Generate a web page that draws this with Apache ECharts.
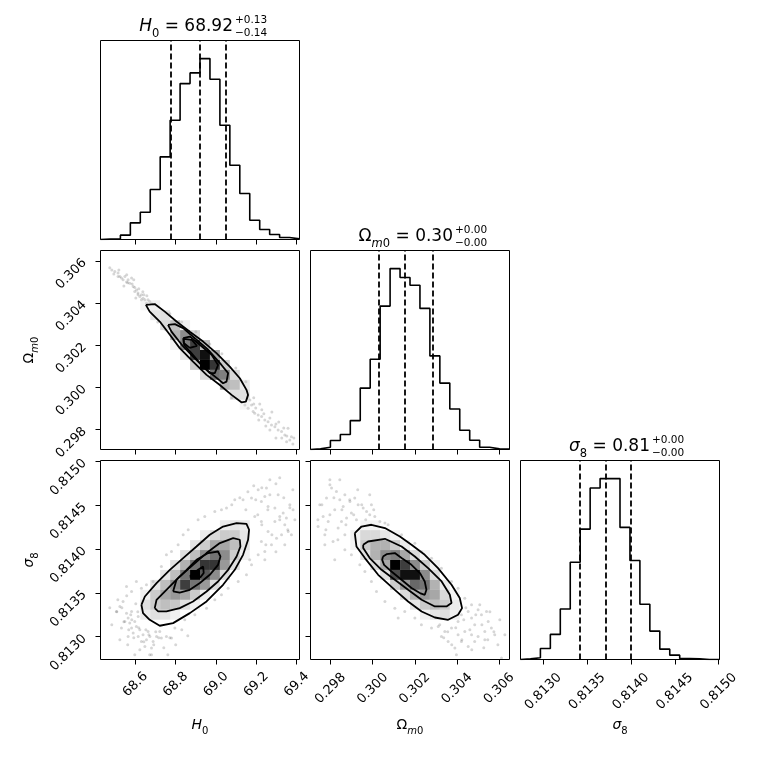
<!DOCTYPE html>
<html>
<head>
<meta charset="utf-8">
<title>corner plot</title>
<script src="https://cdn.jsdelivr.net/npm/echarts@6.0.0/dist/echarts.min.js"></script>
<style>
  html, body { margin: 0; padding: 0; background: #fff; }
  #chart { width: 760px; height: 760px; }
</style>
</head>
<body>
<div id="chart"></div>
<script>
var chartDom = document.getElementById('chart');

// axis extents and tick values of the three parameters
var h0Range = [68.427, 69.414];
var omRange = [0.29705, 0.30649];
var s8Range = [0.81274, 0.81501];
var h0Ticks = [68.6, 68.8, 69.0, 69.2, 69.4];
var omTicks = [0.298, 0.300, 0.302, 0.304, 0.306];
var s8Ticks = [0.8130, 0.8135, 0.8140, 0.8145, 0.8150];

// 1D histograms (20 bins over the range), relative counts
var h0Hist = [1, 2, 13, 50, 82, 150, 248, 358, 468, 500, 543, 481, 343, 223, 138, 58, 30, 15, 6, 2];
var omHist = [2, 7, 27, 45, 87, 185, 272, 432, 545, 518, 495, 425, 282, 200, 122, 58, 28, 7, 2, 1];
var s8Hist = [2, 5, 33, 75, 151, 291, 390, 513, 541, 541, 395, 296, 165, 85, 31, 13, 3, 2, 0, 0];

// 16 / 50 / 84 % quantiles
var h0Quant = [68.776, 68.919, 69.047];
var omQuant = [0.30029, 0.30152, 0.30285];
var s8Quant = [0.813416, 0.813713, 0.813998];

// titles
var paramLabels = ['{it|H}{sub|0}', '{up|\u03a9}{subit|m}{sub|0}', '{it|\u03c3}{sub|8}'];
var titleValues = ['68.92', '0.30', '0.81'];
var titlePlus = ['+0.13', '+0.00', '+0.00'];
var titleMinus = ['\u22120.14', '\u22120.00', '\u22120.00'];

// samples outside the densest region
var pointsH0Om = [
  [68.498,0.30549],[68.514,0.30542],[68.523,0.30526],[68.531,0.30518],[68.548,0.30526],[68.564,0.30510],
  [68.581,0.30518],[68.572,0.30494],[68.589,0.30478],[68.606,0.30462],[68.597,0.30454],[68.613,0.30447],
  [68.630,0.30439],[68.622,0.30431],[68.638,0.30423],[68.647,0.30415],[68.663,0.30415],[68.671,0.30407],
  [68.655,0.30399],[68.613,0.30439],[68.597,0.30473],[68.539,0.30510],[68.556,0.30499],[68.584,0.30490],
  [68.514,0.30526],[68.630,0.30415],[68.483,0.30557],[68.562,0.30496],[68.642,0.30439],[68.681,0.30396],
  [68.473,0.30567],[68.493,0.30538],[68.518,0.30557],[68.543,0.30481],[68.557,0.30534],[68.592,0.30510],
  [68.617,0.30467],[68.637,0.30453],[68.657,0.30434],[68.602,0.30424],
  [68.711,0.30310],[68.751,0.30273],[68.800,0.30216],[68.860,0.30149],[68.920,0.30102],[68.979,0.30045],
  [69.029,0.29997],[69.078,0.29950],[68.771,0.30349],[68.830,0.30310],[68.900,0.30263],[68.969,0.30206],
  [69.029,0.30159],[69.098,0.30092],[69.148,0.30026],
  [69.126,0.29932],[69.143,0.29916],[69.159,0.29901],[69.176,0.29916],[69.184,0.29885],[69.192,0.29877],
  [69.209,0.29869],[69.226,0.29861],[69.242,0.29845],[69.258,0.29837],[69.275,0.29821],[69.292,0.29813],
  [69.308,0.29798],[69.325,0.29790],[69.341,0.29774],[69.357,0.29806],[69.374,0.29766],[69.366,0.29750],
  [69.350,0.29742],[69.168,0.29940],[69.187,0.29921],[69.227,0.29893],[69.267,0.29855],[69.297,0.29826],
  [69.326,0.29760],[69.212,0.29845],[69.247,0.29817],[69.153,0.29950],[69.197,0.29902],[69.381,0.29731],
  [69.187,0.29950],[69.217,0.29921],[69.237,0.29874],[69.277,0.29883],[69.311,0.29836],[69.336,0.29807],
  [69.351,0.29769],[69.386,0.29760],[69.267,0.29798],[69.297,0.29760]
];
var pointsH0S8 = [
  [68.506,0.813288],[68.523,0.813345],[68.539,0.813402],[68.556,0.813269],[68.564,0.813212],[68.572,0.813155],
  [68.581,0.813098],[68.589,0.813041],[68.597,0.813174],[68.605,0.813117],[68.614,0.813003],[68.622,0.813079],
  [68.630,0.812946],[68.638,0.813022],[68.647,0.812889],[68.655,0.812965],[68.663,0.813060],[68.672,0.813003],
  [68.680,0.812870],[68.688,0.812946],[68.705,0.813003],[68.721,0.813060],[68.729,0.812984],[68.754,0.813003],
  [68.597,0.812794],[68.680,0.812794],[68.548,0.813174],[68.531,0.813098],[68.564,0.813003],[68.581,0.813288],
  [68.614,0.813231],[68.779,0.812984],[68.796,0.813098],
  [68.513,0.813421],[68.533,0.813330],[68.557,0.813467],[68.577,0.813250],[68.602,0.813376],[68.543,0.813170],
  [68.567,0.813079],[68.592,0.812988],[68.617,0.813102],[68.642,0.812942],[68.667,0.813022],[68.691,0.812908],
  [68.716,0.812988],[68.741,0.812874],[68.622,0.812851],[68.523,0.812965],[68.483,0.813136],[68.508,0.813284],
  [68.582,0.813193],[68.652,0.813079],[68.701,0.813056],[68.771,0.812988],[68.800,0.812908],[68.830,0.813079],
  [68.860,0.813011],[68.761,0.812794],[68.671,0.812794],[68.562,0.812908],[68.473,0.813330],[68.612,0.813284],
  [68.556,0.813573],[68.581,0.813516],[68.605,0.813630],[68.630,0.813554],[68.655,0.813592],[68.688,0.813630],
  [68.729,0.813801],[68.754,0.813934],[68.779,0.813972],[68.812,0.814048],[68.837,0.814163],[68.862,0.814220],
  [68.911,0.814334],[68.944,0.814372],[68.994,0.814429],[69.027,0.814448],[69.052,0.814467],
  [68.845,0.813193],[68.895,0.813250],[68.953,0.813326],[68.994,0.813421],[69.027,0.813478],[69.060,0.813554],
  [69.110,0.813630],[69.151,0.813706],[69.176,0.813820],[69.209,0.813934],[69.225,0.814086],[69.258,0.814201],
  [69.325,0.814163],[69.358,0.814201],[69.374,0.814163],
  [69.093,0.814562],[69.134,0.814562],[69.176,0.814581],[69.209,0.814676],[69.250,0.814695],[69.267,0.814790],
  [69.225,0.814543],[69.258,0.814486],[69.292,0.814467],[69.316,0.814372],[69.341,0.814277],[69.366,0.814505],
  [69.382,0.814448],[69.292,0.814315],[69.242,0.814600],[69.308,0.814619],[69.349,0.814353],[69.192,0.814372],
  [69.225,0.814315],[69.275,0.814048],[69.300,0.814124],[69.242,0.813972],[69.333,0.814410],
  [69.078,0.814505],[69.118,0.814585],[69.158,0.814653],[69.197,0.814562],[69.227,0.814699],[69.267,0.814619],
  [69.297,0.814744],[69.336,0.814585],[69.366,0.814470],[69.257,0.814448],[69.207,0.814391],[69.316,0.814334],
  [69.356,0.814220],[69.277,0.814163],[69.227,0.814277],[69.381,0.814676],[69.316,0.814813],[69.148,0.814448],
  [69.187,0.814721],[69.247,0.814048],[69.297,0.813969],[69.341,0.814048],[69.391,0.814334],[69.167,0.813877],
  [69.242,0.813877]
];
var pointsOmS8 = [
  [0.29741,0.814258],[0.29749,0.814505],[0.29765,0.814372],[0.29781,0.814581],[0.29797,0.814790],[0.29805,0.814695],
  [0.29820,0.814448],[0.29828,0.814657],[0.29844,0.814562],[0.29860,0.814486],[0.29868,0.814619],[0.29876,0.814353],
  [0.29892,0.814543],[0.29899,0.814410],[0.29915,0.814581],[0.29931,0.814505],[0.29955,0.814467],[0.29971,0.814429],
  [0.29986,0.814391],[0.30010,0.814372],[0.30034,0.814315],[0.30058,0.814296],[0.29836,0.814239],[0.29868,0.814163],
  [0.29773,0.814163],[0.29812,0.814086],[0.29789,0.814315],[0.29852,0.814315],[0.29923,0.814334],[0.29994,0.814505],
  [0.29740,0.814334],[0.29759,0.814505],[0.29778,0.814220],[0.29797,0.814391],[0.29816,0.814585],[0.29835,0.814106],
  [0.29854,0.814448],[0.29873,0.814277],[0.29891,0.814562],[0.29910,0.814391],[0.29929,0.814676],[0.29948,0.814505],
  [0.29967,0.814334],[0.29986,0.814619],[0.30005,0.814448],[0.29797,0.814733],[0.29844,0.814790],[0.29773,0.814048],
  [0.29868,0.813991],[0.29820,0.813877],
  [0.29899,0.813934],[0.29939,0.813820],[0.29963,0.813744],[0.29994,0.813630],[0.30018,0.813516],[0.30058,0.813402],
  [0.30105,0.813326],[0.30152,0.813288],[0.30200,0.813212],[0.30231,0.813136],[0.30121,0.813212],
  [0.30073,0.814277],[0.30137,0.814163],[0.30200,0.814067],[0.30231,0.813972],[0.30279,0.813896],[0.30326,0.813782],
  [0.30374,0.813630],[0.30405,0.813554],[0.30437,0.813440],[0.30469,0.813364],
  [0.30279,0.813098],[0.30311,0.813117],[0.30342,0.813060],[0.30374,0.813098],[0.30405,0.813174],[0.30421,0.813250],
  [0.30453,0.813288],[0.30469,0.813212],[0.30484,0.813136],[0.30500,0.813307],[0.30516,0.813250],[0.30540,0.813288],
  [0.30548,0.813174],[0.30563,0.813098],[0.30532,0.813060],[0.30500,0.813003],[0.30469,0.813022],[0.30437,0.813060],
  [0.30405,0.813022],[0.30390,0.812870],[0.30421,0.812946],[0.30453,0.812889],[0.30484,0.812946],[0.30532,0.812965],
  [0.30579,0.813022],[0.30611,0.812756],[0.30358,0.812946],[0.30326,0.813003],[0.30397,0.812794],
  [0.30318,0.813136],[0.30356,0.813056],[0.30394,0.813102],[0.30432,0.813193],[0.30461,0.813079],[0.30489,0.813250],
  [0.30518,0.813136],[0.30546,0.812965],[0.30575,0.813056],[0.30603,0.813193],[0.30375,0.812908],[0.30423,0.812965],
  [0.30470,0.812851],[0.30527,0.812874],[0.30594,0.812908],[0.30627,0.813022],[0.30337,0.812988],[0.30442,0.813330],
  [0.30508,0.813364],[0.30556,0.813284]
];

// 2D histogram cells: [x bin, y bin counted from the top, density relative to max]
var cellsH0Om = [
  [4,5,0.22],[5,5,0.24],[5,6,0.32],[6,6,0.35],[6,7,0.39],[7,7,0.5],[8,7,0.24],
  [7,8,0.55],[8,8,0.67],[9,8,0.39],[7,9,0.24],[8,9,0.71],[9,9,0.87],[10,9,0.5],
  [8,10,0.32],[9,10,0.87],[10,10,0.97],[11,10,0.59],[9,11,0.45],[10,11,1.0],[11,11,0.89],[12,11,0.45],
  [10,12,0.39],[11,12,0.74],[12,12,0.71],[13,12,0.39],[12,13,0.55],[13,13,0.5],[14,13,0.28],
  [13,14,0.35],[14,14,0.35],[14,15,0.2]
];
var cellsH0S8 = [
  [12,6,0.28],[13,6,0.32],[14,6,0.28],
  [10,7,0.28],[11,7,0.39],[12,7,0.45],[13,7,0.45],[14,7,0.32],
  [9,8,0.32],[10,8,0.45],[11,8,0.59],[12,8,0.59],[13,8,0.5],[14,8,0.32],
  [8,9,0.35],[9,9,0.5],[10,9,0.67],[11,9,0.74],[12,9,0.67],[13,9,0.45],[14,9,0.24],
  [7,10,0.35],[8,10,0.55],[9,10,0.74],[10,10,0.89],[11,10,0.89],[12,10,0.63],[13,10,0.35],
  [6,11,0.32],[7,11,0.5],[8,11,0.74],[9,11,1.0],[10,11,0.81],[11,11,0.67],[12,11,0.39],
  [5,12,0.32],[6,12,0.5],[7,12,0.67],[8,12,0.87],[9,12,0.74],[10,12,0.63],[11,12,0.39],
  [4,13,0.24],[5,13,0.45],[6,13,0.59],[7,13,0.63],[8,13,0.59],[9,13,0.45],[10,13,0.28],
  [4,14,0.35],[5,14,0.45],[6,14,0.5],[7,14,0.47],[8,14,0.35],[9,14,0.24],
  [4,15,0.28],[5,15,0.35],[6,15,0.32],[7,15,0.24]
];
var cellsOmS8 = [
  [5,6,0.22],[6,6,0.22],
  [4,7,0.24],[5,7,0.39],[6,7,0.39],[7,7,0.32],[8,7,0.22],
  [4,8,0.22],[5,8,0.45],[6,8,0.55],[7,8,0.55],[8,8,0.45],[9,8,0.28],
  [5,9,0.35],[6,9,0.55],[7,9,0.67],[8,9,0.71],[9,9,0.59],[10,9,0.39],[11,9,0.22],
  [6,10,0.39],[7,10,0.59],[8,10,1.0],[9,10,0.87],[10,10,0.67],[11,10,0.45],[12,10,0.24],
  [7,11,0.35],[8,11,0.84],[9,11,0.97],[10,11,0.97],[11,11,0.67],[12,11,0.39],
  [8,12,0.45],[9,12,0.63],[10,12,0.77],[11,12,0.74],[12,12,0.55],[13,12,0.28],
  [9,13,0.39],[10,13,0.55],[11,13,0.63],[12,13,0.59],[13,13,0.39],[14,13,0.22],
  [10,14,0.32],[11,14,0.45],[12,14,0.5],[13,14,0.45],[14,14,0.28],
  [11,15,0.24],[12,15,0.32],[13,15,0.35],[14,15,0.24]
];

// density contours, outermost first
var contoursH0Om = [
  [[68.652,0.30391],[68.696,0.30395],[68.746,0.30359],[68.804,0.30312],[68.870,0.30264],[68.936,0.30217],
   [69.002,0.30162],[69.068,0.30098],[69.118,0.30043],[69.151,0.29988],[69.159,0.29964],[69.148,0.29932],
   [69.126,0.29929],[69.077,0.29964],[69.019,0.30011],[68.953,0.30059],[68.886,0.30122],[68.820,0.30186],
   [68.771,0.30249],[68.721,0.30312],[68.671,0.30359]],
  [[68.762,0.30296],[68.796,0.30300],[68.837,0.30281],[68.895,0.30233],[68.961,0.30178],[69.027,0.30106],
   [69.060,0.30067],[69.052,0.30027],[69.035,0.30019],[69.009,0.30040],[68.953,0.30083],[68.886,0.30146],
   [68.835,0.30196],[68.779,0.30264]],
  [[68.837,0.30233],[68.870,0.30241],[68.911,0.30209],[68.978,0.30154],[69.010,0.30106],[68.994,0.30067],
   [68.969,0.30067],[68.928,0.30106],[68.878,0.30162],[68.842,0.30201]],
  [[68.840,0.30230],[68.880,0.30225],[68.905,0.30197],[68.870,0.30187],[68.840,0.30211]]
];
var contoursH0S8 = [
  [[68.630,0.813364],[68.647,0.813459],[68.705,0.813612],[68.771,0.813763],[68.837,0.813897],[68.903,0.814029],
   [68.969,0.814163],[69.035,0.814257],[69.102,0.814296],[69.151,0.814288],[69.164,0.814220],[69.159,0.814106],
   [69.134,0.813934],[69.093,0.813763],[69.035,0.813592],[68.953,0.813402],[68.870,0.813269],[68.787,0.813155],
   [68.721,0.813125],[68.671,0.813193],[68.638,0.813269]],
  [[68.696,0.813326],[68.705,0.813421],[68.754,0.813535],[68.820,0.813687],[68.886,0.813820],[68.953,0.813954],
   [69.019,0.814068],[69.085,0.814125],[69.118,0.814106],[69.121,0.814029],[69.102,0.813915],[69.060,0.813763],
   [69.010,0.813630],[68.953,0.813516],[68.886,0.813402],[68.820,0.813326],[68.754,0.813288],[68.713,0.813288]],
  [[68.787,0.813516],[68.804,0.813649],[68.854,0.813763],[68.903,0.813877],[68.961,0.813954],[69.010,0.813972],
   [69.022,0.813915],[69.010,0.813820],[68.969,0.813706],[68.920,0.813612],[68.870,0.813535],[68.820,0.813504]],
  [[68.870,0.813687],[68.911,0.813763],[68.936,0.813801],[68.939,0.813726],[68.923,0.813680],[68.886,0.813669]]
];
var contoursOmS8 = [
  [[0.29915,0.814182],[0.29947,0.814257],[0.29994,0.814277],[0.30058,0.814239],[0.30129,0.814143],[0.30184,0.814048],
   [0.30247,0.813934],[0.30310,0.813783],[0.30374,0.813592],[0.30413,0.813441],[0.30424,0.813326],[0.30405,0.813250],
   [0.30358,0.813193],[0.30295,0.813219],[0.30232,0.813288],[0.30168,0.813402],[0.30105,0.813535],[0.30026,0.813706],
   [0.29963,0.813897],[0.29923,0.814029]],
  [[0.29955,0.814048],[0.29978,0.814086],[0.30058,0.814117],[0.30137,0.814029],[0.30200,0.813915],[0.30263,0.813783],
   [0.30327,0.813630],[0.30366,0.813478],[0.30374,0.813384],[0.30350,0.813345],[0.30295,0.813345],[0.30232,0.813421],
   [0.30168,0.813535],[0.30105,0.813649],[0.30042,0.813763],[0.29986,0.813897],[0.29955,0.814011]],
  [[0.30049,0.813915],[0.30066,0.813942],[0.30105,0.813954],[0.30137,0.813897],[0.30184,0.813820],[0.30224,0.813726],
   [0.30247,0.813630],[0.30255,0.813535],[0.30247,0.813478],[0.30224,0.813498],[0.30184,0.813555],[0.30137,0.813649],
   [0.30089,0.813744],[0.30054,0.813820],[0.30045,0.813877]]
];

var FONT = 'DejaVu Sans';
var NBINS = 20;

function richSet(size, lh, subSize) {
    return {
        it: { fontFamily: FONT, fontStyle: 'italic', fontSize: size, lineHeight: lh, color: '#000' },
        up: { fontFamily: FONT, fontSize: size, lineHeight: lh, color: '#000' },
        sub: { fontFamily: FONT, fontSize: subSize, lineHeight: subSize, verticalAlign: 'bottom', color: '#000' },
        subit: { fontFamily: FONT, fontStyle: 'italic', fontSize: subSize, lineHeight: subSize, verticalAlign: 'bottom', color: '#000' }
    };
}

function binEdges(range, n) {
    var e = [];
    for (var i = 0; i <= n; i++) e.push(range[0] + (range[1] - range[0]) * i / n);
    return e;
}

// panel layout: [col, row]
var colLeft = [100.5, 310.5, 520.5];
var rowTop = [40.5, 250.5, 460.5];
var panelSize = 199;
var panels = [[0, 0], [0, 1], [0, 2], [1, 1], [1, 2], [2, 2]];

var grids = panels.map(function (p) {
    return {
        left: colLeft[p[0]], top: rowTop[p[1]], width: panelSize, height: panelSize,
        show: true, borderColor: '#000', borderWidth: 1, backgroundColor: 'transparent',
        outerBoundsMode: 'none'
    };
});

function valueAxis(gi, range, ticks, digits, opts) {
    opts = opts || {};
    var ax = {
        type: 'value', gridIndex: gi, min: range[0], max: range[1],
        axisLine: { show: false },
        splitLine: { show: false },
        axisTick: { show: true, length: 5, lineStyle: { color: '#000', width: 1 }, customValues: ticks },
        axisLabel: {
            show: !!opts.labels, customValues: ticks, rotate: 45, fontSize: 13, fontFamily: FONT, color: '#000',
            margin: opts.margin || 16,
            formatter: function (v) { return v.toFixed(digits); }
        }
    };
    if (opts.center) {
        ax.axisLabel.align = 'center';
        ax.axisLabel.verticalAlign = 'middle';
    }
    if (opts.name) {
        ax.name = opts.name;
        ax.nameLocation = 'middle';
        ax.nameGap = opts.nameGap;
        ax.nameTextStyle = { rich: richSet(14, 22, 10), fontFamily: FONT, fontSize: 14, color: '#000' };
    }
    return ax;
}

function histYAxis(gi, counts) {
    return { type: 'value', gridIndex: gi, min: 0, max: 1.1 * Math.max.apply(null, counts), show: false };
}

var xAxes = [
    valueAxis(0, h0Range, h0Ticks, 1),
    valueAxis(1, h0Range, h0Ticks, 1),
    valueAxis(2, h0Range, h0Ticks, 1, { labels: true, center: true, margin: 25, name: paramLabels[0], nameGap: 55 }),
    valueAxis(3, omRange, omTicks, 3),
    valueAxis(4, omRange, omTicks, 3, { labels: true, center: true, margin: 29, name: paramLabels[1], nameGap: 55 }),
    valueAxis(5, s8Range, s8Ticks, 4, { labels: true, center: true, margin: 32, name: paramLabels[2], nameGap: 55 })
];
var yAxes = [
    histYAxis(0, h0Hist),
    valueAxis(1, omRange, omTicks, 3, { labels: true, margin: 16, name: paramLabels[1], nameGap: 60 }),
    valueAxis(2, s8Range, s8Ticks, 4, { labels: true, margin: 16, name: paramLabels[2], nameGap: 60 }),
    histYAxis(3, omHist),
    valueAxis(4, s8Range, s8Ticks, 4),
    histYAxis(5, s8Hist)
];

function histSeries(gi, range, counts, quant) {
    var e = binEdges(range, counts.length);
    var d = [[e[0], 0]];
    for (var i = 0; i < counts.length; i++) d.push([e[i], counts[i]]);
    d.push([e[counts.length], counts[counts.length - 1]]);
    d.push([e[counts.length], 0]);
    return {
        type: 'line', xAxisIndex: gi, yAxisIndex: gi, step: 'end', data: d,
        symbol: 'none', silent: true, z: 3,
        lineStyle: { color: '#000', width: 1.6 },
        markLine: {
            silent: true, symbol: 'none', precision: 8, label: { show: false },
            lineStyle: { color: '#000', width: 1.8, type: [6, 3] },
            data: quant.map(function (v) { return { xAxis: v }; })
        }
    };
}

function panelSeries(gi, xr, yr, points, cells, contours) {
    var dx = (xr[1] - xr[0]) / NBINS, dy = (yr[1] - yr[0]) / NBINS;
    var list = [];
    list.push({
        type: 'scatter', xAxisIndex: gi, yAxisIndex: gi, data: points, z: 1, silent: true,
        symbol: 'circle', symbolSize: 3, itemStyle: { color: 'rgba(0,0,0,0.2)' }
    });
    // white base inside the outermost contour
    list.push({
        type: 'custom', xAxisIndex: gi, yAxisIndex: gi, z: 2, silent: true, data: [0],
        renderItem: function (params, api) {
            return {
                type: 'polygon',
                shape: { points: contours[0].map(function (p) { return api.coord(p); }) },
                style: { fill: '#fff' }
            };
        }
    });
    // density cells: black fading to transparent white
    list.push({
        type: 'custom', xAxisIndex: gi, yAxisIndex: gi, z: 3, silent: true, data: cells,
        renderItem: function (params, api) {
            var i = api.value(0), j = api.value(1), w = api.value(2);
            var p0 = api.coord([xr[0] + i * dx, yr[1] - j * dy]);
            var p1 = api.coord([xr[0] + (i + 1) * dx, yr[1] - (j + 1) * dy]);
            var t = Math.round(255 * (1 - w));
            return {
                type: 'rect',
                shape: { x: p0[0], y: p0[1], width: p1[0] - p0[0], height: p1[1] - p0[1] },
                style: { fill: 'rgba(' + t + ',' + t + ',' + t + ',' + w + ')' }
            };
        }
    });
    contours.forEach(function (c) {
        list.push({
            type: 'line', xAxisIndex: gi, yAxisIndex: gi, z: 4, silent: true,
            data: c.concat([c[0]]), symbol: 'none', smooth: false,
            lineStyle: { color: '#000', width: 1.8 }
        });
    });
    return list;
}

var series = [].concat(
    [histSeries(0, h0Range, h0Hist, h0Quant)],
    panelSeries(1, h0Range, omRange, pointsH0Om, cellsH0Om, contoursH0Om),
    panelSeries(2, h0Range, s8Range, pointsH0S8, cellsH0S8, contoursH0S8),
    [histSeries(3, omRange, omHist, omQuant)],
    panelSeries(4, omRange, s8Range, pointsOmS8, cellsOmS8, contoursOmS8),
    [histSeries(5, s8Range, s8Hist, s8Quant)]
);

// titles above the diagonal
var titleRight = [233, 453, 650];
var titleY = [27, 237, 447];
var graphics = [];
for (var k = 0; k < 3; k++) {
    graphics.push({
        type: 'text', x: titleRight[k], y: titleY[k], silent: true,
        style: {
            text: paramLabels[k] + '{up| = ' + titleValues[k] + '}',
            rich: richSet(17, 26, 11.5), fontFamily: FONT, fontSize: 17,
            align: 'right', verticalAlign: 'middle', fill: '#000'
        }
    });
    graphics.push({
        type: 'text', x: titleRight[k] + 2, y: titleY[k] - 6.5, silent: true,
        style: { text: titlePlus[k], fontFamily: FONT, fontSize: 10.5, align: 'left', verticalAlign: 'middle', fill: '#000' }
    });
    graphics.push({
        type: 'text', x: titleRight[k] + 2, y: titleY[k] + 6, silent: true,
        style: { text: titleMinus[k], fontFamily: FONT, fontSize: 10.5, align: 'left', verticalAlign: 'middle', fill: '#000' }
    });
}

var myChart = echarts.init(chartDom);
var option = {
    backgroundColor: '#fff',
    animation: false,
    textStyle: { fontFamily: FONT },
    grid: grids,
    xAxis: xAxes,
    yAxis: yAxes,
    series: series,
    graphic: graphics
};
option && myChart.setOption(option);
</script>
</body>
</html>
